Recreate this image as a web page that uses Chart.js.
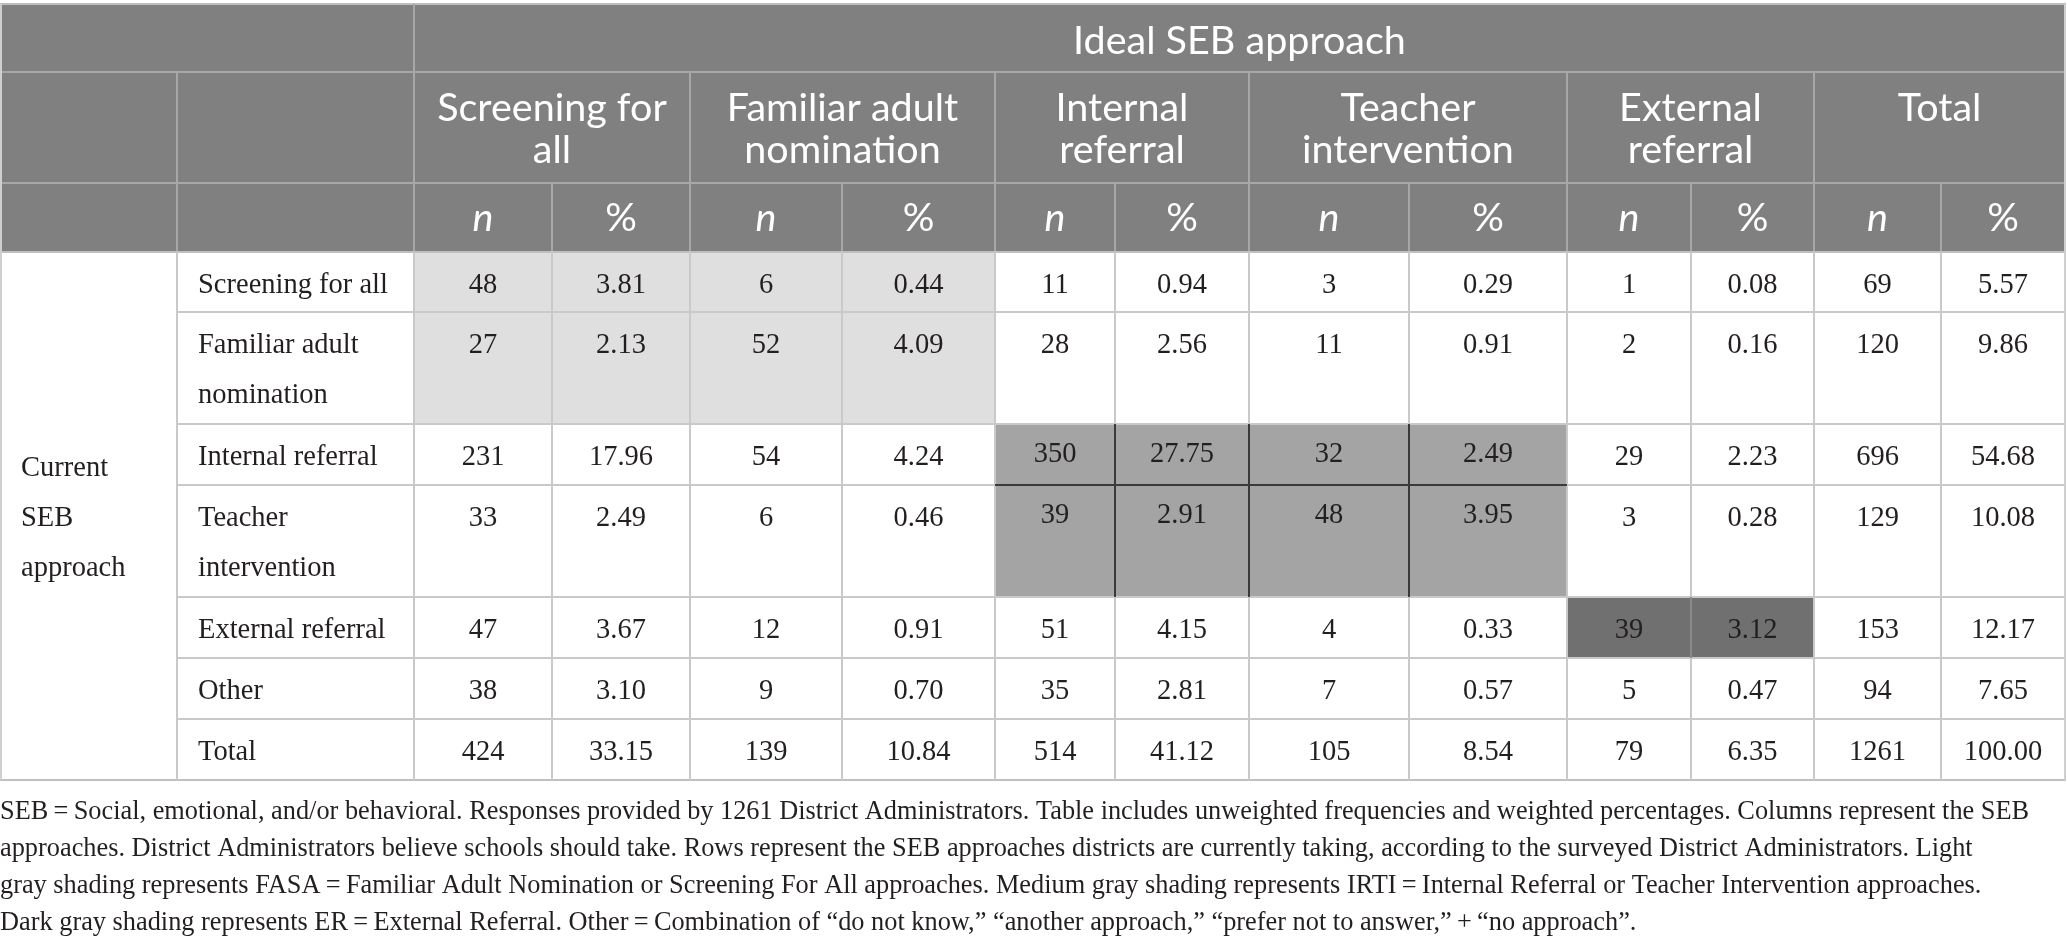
<!DOCTYPE html>
<html><head><meta charset="utf-8">
<script src="https://cdn.jsdelivr.net/npm/chart.js@4.4.0/dist/chart.umd.min.js"></script>
<style>html,body{margin:0;padding:0;background:#fff;overflow:hidden}canvas{display:block}</style>
</head><body>
<canvas id="c" width="2067" height="945"></canvas>
<script>
// ---------- DATA ----------
const headerTitle = "Ideal SEB approach";
const columnGroups = [["Screening for","all"],["Familiar adult","nomination"],["Internal","referral"],["Teacher","intervention"],["External","referral"],["Total"]];
const subHeaders = ["n","%"];
const rowGroupLabel = ["Current","SEB","approach"];
const rowLabels = [["Screening for all"],["Familiar adult","nomination"],["Internal referral"],["Teacher","intervention"],["External referral"],["Other"],["Total"]];
const nValues = [
  [48, 6, 11, 3, 1, 69],
  [27, 52, 28, 11, 2, 120],
  [231, 54, 350, 32, 29, 696],
  [33, 6, 39, 48, 3, 129],
  [47, 12, 51, 4, 39, 153],
  [38, 9, 35, 7, 5, 94],
  [424, 139, 514, 105, 79, 1261]
];
const pctValues = [
  ["3.81","0.44","0.94","0.29","0.08","5.57"],
  ["2.13","4.09","2.56","0.91","0.16","9.86"],
  ["17.96","4.24","27.75","2.49","2.23","54.68"],
  ["2.49","0.46","2.91","3.95","0.28","10.08"],
  ["3.67","0.91","4.15","0.33","3.12","12.17"],
  ["3.10","0.70","2.81","0.57","0.47","7.65"],
  ["33.15","10.84","41.12","8.54","6.35","100.00"]
];
// shaded blocks: [firstRow, lastRow, firstGroup, lastGroup, kind]
const shadeBlocks = [[0,1,0,1,"light"],[2,3,2,3,"medium"],[4,4,4,4,"dark"]];
const footnote = [
  "SEB\u2009=\u2009Social, emotional, and/or behavioral. Responses provided by 1261 District Administrators. Table includes unweighted frequencies and weighted percentages. Columns represent the SEB",
  "approaches. District Administrators believe schools should take. Rows represent the SEB approaches districts are currently taking, according to the surveyed District Administrators. Light",
  "gray shading represents FASA\u2009=\u2009Familiar Adult Nomination or Screening For All approaches. Medium gray shading represents IRTI\u2009=\u2009Internal Referral or Teacher Intervention approaches.",
  "Dark gray shading represents ER\u2009=\u2009External Referral. Other\u2009=\u2009Combination of \u201Cdo not know,\u201D \u201Canother approach,\u201D \u201Cprefer not to answer,\u201D\u2009+\u2009\u201Cno approach\u201D."
];

// ---------- LAYOUT ----------
const colEdges = [0,177,414,552,690,842,995,1115,1249,1409,1567,1691,1814,1941,2065];
const rowEdges = [4,72,183,252,312,424,485,597,658,719,780];
const shadeColors = {light:"#e0dfe0", medium:"#a3a4a3", dark:"#707070"};
const headerBg = "#7f807f";
const headerLine = "#a6a7a6";
const gridLine = "#c9c9c9";
const textColor = "#231f20";
const sansFont = "Lato";
const serifFont = "'Liberation Serif'";
const headerSize = 39.5;
const footnoteWidth = 2029;

const tablePlugin = {
  id: "tablePlugin",
  afterDraw(chart) {
    const ctx = chart.ctx;
    const xs = chart.scales.x, ys = chart.scales.y;
    const X = v => xs.getPixelForValue(v);
    const Y = v => ys.getPixelForValue(v);
    const rect = (x0,y0,x1,y1,c) => { ctx.fillStyle = c; ctx.fillRect(X(x0), Y(y0), X(x1)-X(x0), Y(y1)-Y(y0)); };
    const line = (x0,y0,x1,y1,c,w) => { ctx.strokeStyle = c; ctx.lineWidth = w||2; ctx.beginPath(); ctx.moveTo(X(x0),Y(y0)); ctx.lineTo(X(x1),Y(y1)); ctx.stroke(); };
    const W = colEdges[colEdges.length-1];
    ctx.save();
    rect(0,0,2067,945,"#ffffff");
    // header background
    rect(0, rowEdges[0], W+1, rowEdges[3], headerBg);
    // body shading
    shadeBlocks.forEach(([r0,r1,g0,g1,k]) => {
      rect(colEdges[2+g0*2], rowEdges[3+r0], colEdges[2+g1*2+2], rowEdges[3+r1+1], shadeColors[k]);
    });
    // header lines
    line(0, rowEdges[0], W+1, rowEdges[0], "#bdbdbd", 2);
    line(0, rowEdges[1], W+1, rowEdges[1], headerLine, 2);
    line(0, rowEdges[2], W+1, rowEdges[2], headerLine, 2);
    line(colEdges[2], rowEdges[0], colEdges[2], rowEdges[3], headerLine, 2);
    line(colEdges[1], rowEdges[1], colEdges[1], rowEdges[3], headerLine, 2);
    for (let g=1; g<columnGroups.length; g++) line(colEdges[2+g*2], rowEdges[1], colEdges[2+g*2], rowEdges[3], headerLine, 2);
    for (let g=0; g<columnGroups.length; g++) line(colEdges[3+g*2], rowEdges[2], colEdges[3+g*2], rowEdges[3], headerLine, 2);
    // body grid
    for (let r=4; r<rowEdges.length-1; r++) line(colEdges[1], rowEdges[r], W+1, rowEdges[r], gridLine, 2);
    line(0, rowEdges[rowEdges.length-1], W+1, rowEdges[rowEdges.length-1], "#bfbfbf", 2);
    line(0, rowEdges[3], W+1, rowEdges[3], "#bfbfbf", 2);
    for (let c=1; c<colEdges.length-1; c++) line(colEdges[c], rowEdges[3], colEdges[c], rowEdges[rowEdges.length-1], gridLine, 2);
    line(1, rowEdges[0], 1, rowEdges[rowEdges.length-1], "#cfcfcf", 2);
    line(W, rowEdges[0], W, rowEdges[rowEdges.length-1], "#cfcfcf", 2);
    // inner lines of shaded blocks
    shadeBlocks.forEach(([r0,r1,g0,g1,k]) => {
      if (k === "light") return;
      const col = k === "medium" ? "#3a3a3a" : "#8a8a8a";
      const c0 = 2+g0*2, c1 = 2+g1*2+2, rr0 = 3+r0, rr1 = 3+r1+1;
      for (let c=c0+1; c<c1; c++) line(colEdges[c], rowEdges[rr0], colEdges[c], rowEdges[rr1], col, 2);
      for (let r=rr0+1; r<rr1; r++) line(colEdges[c0], rowEdges[r], colEdges[c1], rowEdges[r], col, 2);
    });
    // header text
    ctx.fillStyle = "#ffffff";
    ctx.textAlign = "center";
    ctx.textBaseline = "alphabetic";
    const hf = headerSize + "px " + sansFont;
    ctx.font = hf;
    ctx.fillText(headerTitle, X((colEdges[2]+W)/2), Y(54));
    columnGroups.forEach((lines, g) => {
      const cx = (colEdges[2+g*2] + colEdges[4+g*2]) / 2;
      ctx.font = hf;
      lines.forEach((t, i) => ctx.fillText(t, X(cx), Y(121 + i*42)));
      subHeaders.forEach((s, j) => {
        ctx.font = (j===0 ? "italic " : "") + hf;
        const sx = (colEdges[2+g*2+j] + colEdges[3+g*2+j]) / 2;
        ctx.fillText(s, X(sx), Y(231));
      });
    });
    // body text
    ctx.fillStyle = textColor;
    ctx.font = "28.5px " + serifFont;
    ctx.textAlign = "left";
    rowGroupLabel.forEach((t, i) => ctx.fillText(t, X(21), Y(476 + i*50)));
    rowLabels.forEach((lines, r) => {
      lines.forEach((t, i) => ctx.fillText(t, X(198), Y(rowEdges[3+r] + 41 + i*50)));
    });
    ctx.textAlign = "center";
    const isMedium = (r, g) => shadeBlocks.some(([r0,r1,g0,g1,k]) => k==="medium" && r>=r0 && r<=r1 && g>=g0 && g<=g1);
    nValues.forEach((row, r) => {
      row.forEach((v, g) => {
        const off = isMedium(r,g) ? -3 : 0;
        const by = rowEdges[3+r] + 41 + off;
        ctx.fillText(String(v), X((colEdges[2+g*2]+colEdges[3+g*2])/2), Y(by));
        ctx.fillText(pctValues[r][g], X((colEdges[3+g*2]+colEdges[4+g*2])/2), Y(by));
      });
    });
    // footnote (font size fitted so the first line spans the reference width)
    ctx.textAlign = "left";
    ctx.font = "24px " + serifFont;
    const w0 = ctx.measureText(footnote[0]).width;
    const fs = Math.min(28, Math.max(20, 24 * footnoteWidth / w0));
    ctx.font = fs.toFixed(2) + "px " + serifFont;
    footnote.forEach((t, i) => ctx.fillText(t, X(0), Y(819 + i*37)));
    ctx.restore();
  }
};

new Chart(document.getElementById("c"), {
  type: "scatter",
  data: { datasets: [] },
  options: {
    responsive: false,
    animation: false,
    events: [],
    layout: { padding: 0 },
    plugins: { legend: { display: false }, tooltip: { enabled: false } },
    scales: {
      x: { type: "linear", min: 0, max: 2067, display: false },
      y: { type: "linear", min: 0, max: 945, reverse: true, display: false }
    }
  },
  plugins: [tablePlugin]
});
</script>
</body></html>
